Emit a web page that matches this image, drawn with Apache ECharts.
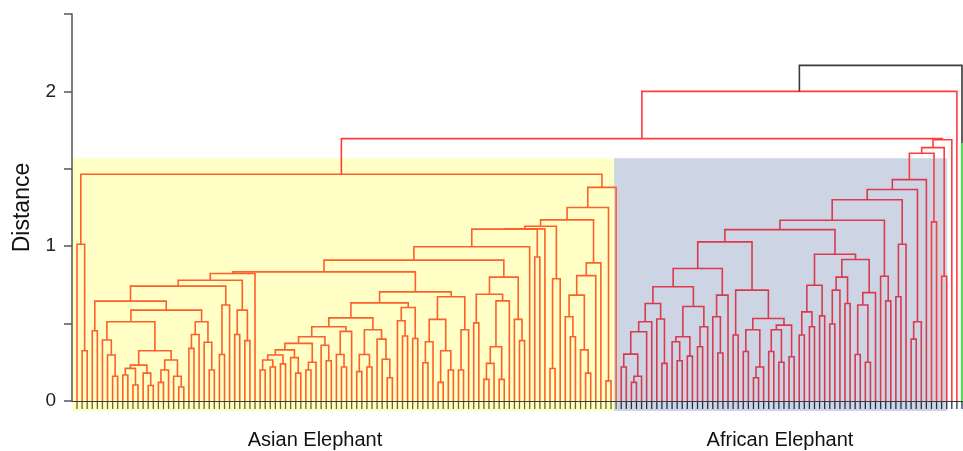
<!DOCTYPE html>
<html><head><meta charset="utf-8">
<script src="https://cdn.jsdelivr.net/npm/echarts@6/dist/echarts.min.js"></script>
<style>html,body{margin:0;padding:0;background:#fff}#c{width:963px;height:451px}</style>
</head><body><div id="c"></div>
<script>
// ---------------- DATA ----------------
// Dendrogram merges written as [height, left, right]; 0 = a leaf; [height, child] = single branch.
const groupNames = ['Asian Elephant', 'African Elephant'];
const yTickLabels = ['0', '1', '2'];
const cutoffHeight = 1.568;

const asianL1   = [1.013, 0, [0.325, 0, 0]];
const asianX107 = [0.394, 0, [0.297, 0, [0.16, 0, 0]]];
const asianX148 = [0.232, [0.211, [0.168, 0, 0], [0.103, 0, 0]], [0.18, 0, [0.1, 0, 0]]];
const asianX176 = [0.265, [0.2, [0.12, 0, 0], 0], [0.16, 0, [0.09, 0, 0]]];
const asianX199 = [0.512, [0.43, [0.34, 0, 0], 0], [0.38, 0, [0.2, 0, 0]]];
const asianX130 = [0.645, [0.454, 0, 0], [0.587, [0.512, asianX107, [0.325, asianX148, asianX176]], asianX199]];
const asianX241 = [0.824, [0.78, [0.742, asianX130, [0.62, [0.3, 0, 0], 0]], [0.587, [0.43, 0, 0], [0.39, 0, 0]]], 0];
const asianS1   = [0.48, [0.415, [0.372, [0.33, [0.297, [0.265, [0.2, 0, 0], [0.22, 0, 0]], [0.24, 0, 0]], [0.28, 0, [0.18, 0, 0]]], [0.25, [0.2, 0, 0], 0]], [0.36, 0, [0.26, 0, 0]]], [0.45, [0.3, 0, [0.22, 0, 0]], 0]];
const asianS2   = [0.46, [0.3, [0.19, 0, 0], [0.22, 0, 0]], [0.4, 0, [0.27, 0, [0.15, 0, 0]]]];
const asianX409 = [0.604, [0.518, 0, [0.42, 0, 0]], [0.404, 0, 0]];
const asianX451 = [0.673, [0.527, [0.383, [0.247, 0, 0], 0], [0.325, [0.12, 0, 0], [0.2, 0, 0]]], [0.46, [0.2, 0, 0], 0]];
const asianX416 = [0.705, [0.634, [0.537, asianS1, asianS2], asianX409], asianX451];
const asianR504 = [0.80, [0.69, [0.505, 0, 0], [0.647, [0.35, [0.243, [0.14, 0, 0], 0], [0.14, 0, 0]], 0]], [0.527, 0, [0.39, 0, 0]]];
const asianN3   = [1.11, [0.996, [0.91, [0.834, asianX241, asianX416], asianR504], 0], [0.93, 0, 0]];
const asianR3R  = [0.892, [0.81, [0.684, [0.544, 0, [0.415, 0, 0]], [0.33, 0, [0.18, 0, 0]]], 0], 0];
const asianTree = [1.465, asianL1, [1.38, [1.25, [1.17, [1.129, [1.112, asianN3, 0], [0.79, [0.21, 0, 0], 0]], asianR3R], [0.13, 0, 0]], 0]];

const afX630  = [0.303, [0.22, 0, 0], [0.16, [0.12, 0, 0], 0]];
const afX650  = [0.63, [0.512, [0.447, afX630, 0], 0], [0.53, 0, [0.243, 0, 0]]];
const afX690  = [0.61, [0.415, [0.383, 0, [0.26, 0, 0]], [0.29, 0, 0]], [0.48, [0.35, 0, 0], 0]];
const afX720  = [0.684, [0.544, 0, [0.31, 0, 0]], 0];
const afX770  = [0.533, [0.46, [0.32, 0, 0], [0.22, [0.15, 0, 0], 0]], [0.49, [0.46, [0.32, 0, 0], [0.25, 0, 0]], [0.286, 0, 0]]];
const afX1028 = [1.028, [0.856, [0.738, afX650, afX690], afX720], [0.716, [0.426, 0, 0], afX770]];
const afX838  = [0.948, [0.748, [0.576, [0.426, 0, 0], [0.48, 0, 0]], [0.55, 0, 0]], [0.914, [0.80, [0.716, [0.497, 0, 0], 0], [0.63, 0, 0]], [0.70, [0.62, [0.3, 0, 0], [0.25, 0, 0]], 0]]];
const africanTree = [1.43, [1.366, [1.30, [1.168, [1.107, afX1028, afX838], [0.806, 0, [0.647, 0, 0]]], [1.013, [0.673, 0, 0], 0]], [0.512, [0.40, 0, 0], 0]], 0];
const upperTree = [1.688, [1.637, [1.60, africanTree, [1.157, 0, 0]], [0.806, 0, 0]], 0];
const outgroup  = [1.665, 0];
const fullTree  = [2.168, [2.0, [1.695, asianTree, upperTree], 0], outgroup];

// ---------------- STYLE ----------------
const lineColors = { root: '#3a3a3a', upper: '#ff3c3c', asian: '#ff5f2a', african: '#d93a4e', green: '#22dd22' };
const colorKeys = Object.keys(lineColors);
const tickColors = ['#5f6a22', '#22304f'];
const boxColors = ['#ffffc6', '#cdd5e5'];

// ---------------- LAYOUT ----------------
let leafCounter = 0;
const segs = [];
const leaves = [];
function lay(node, group) {
  if (node === 0) { const x = leafCounter++; leaves.push([x, group === 'asian' ? 0 : 1]); return { x: x, h: 0 }; }
  if (node === asianTree) group = 'asian';
  else if (node === africanTree) group = 'african';
  const h = node[0];
  const kids = node.slice(1).map(c => lay(c, group));
  let key;
  if (node === fullTree) key = 'root';
  else if (node.length === 2) key = 'green';
  else if (group === 'asian') key = 'asian';
  else if (group === 'african') key = 'african';
  else key = 'upper';
  const ci = colorKeys.indexOf(key);
  if (kids.length === 1) {
    segs.push([kids[0].x, kids[0].h, kids[0].x, kids[0].h, h, ci]);
    return { x: kids[0].x, h: h };
  }
  segs.push([kids[0].x, kids[0].h, kids[1].x, kids[1].h, h, ci]);
  return { x: (kids[0].x + kids[1].x) / 2, h: h };
}
lay(fullTree, 'upper');
const nLeaves = leafCounter;
const asianCount = leaves.filter(l => l[1] === 0).length;
const xMin = -0.983, xMax = nLeaves - 1 + 0.2;
const boxes = [[xMin, asianCount - 1.4, cutoffHeight, 0], [asianCount - 1.4, nLeaves - 3.9, cutoffHeight, 1]];

const chart = echarts.init(document.getElementById('c'), null, { renderer: 'canvas' });
const font = 'Liberation Sans, Arial, Helvetica, sans-serif';
chart.setOption({
  animation: false,
  backgroundColor: '#ffffff',
  grid: { left: 72, right: 0, top: 14, bottom: 50 },
  xAxis: { type: 'value', min: xMin, max: xMax, z: 6,
    axisLine: { show: true, onZero: false, lineStyle: { color: '#3a3a3a', width: 1 } },
    axisTick: { show: false }, axisLabel: { show: false }, splitLine: { show: false } },
  yAxis: { type: 'value', min: 0, max: 2.5, interval: 0.5, z: 6,
    name: 'Distance', nameLocation: 'middle', nameGap: 29, nameRotate: 90,
    nameTextStyle: { fontSize: 23, color: '#111', fontFamily: font },
    axisLine: { show: true, onZero: false, lineStyle: { color: '#555', width: 1.5 } },
    axisTick: { show: true, inside: false, length: 8, lineStyle: { color: '#555', width: 1.5 } },
    axisLabel: { fontSize: 19, color: '#222', margin: 16, fontFamily: font,
      formatter: v => (Number.isInteger(v) && yTickLabels.indexOf(String(v)) >= 0 ? String(v) : '') },
    splitLine: { show: false } },
  series: [
    { type: 'custom', clip: false, z: 0, silent: true, data: boxes, encode: { x: [0, 1], y: 2 },
      renderItem: (p, api) => {
        const a = api.coord([api.value(0), api.value(2)]);
        const b = api.coord([api.value(1), 0]);
        return { type: 'rect', shape: { x: a[0], y: a[1], width: b[0] - a[0], height: b[1] - a[1] + 10 },
          style: { fill: boxColors[api.value(3)] } };
      } },
    { type: 'custom', clip: false, z: 3, silent: true, data: segs, encode: { x: [0, 2], y: [1, 3, 4] },
      renderItem: (p, api) => {
        const x1 = api.value(0), h1 = api.value(1), x2 = api.value(2), h2 = api.value(3), h = api.value(4);
        const pts = [api.coord([x1, h1]), api.coord([x1, h]), api.coord([x2, h]), api.coord([x2, h2])];
        return { type: 'polyline', shape: { points: pts },
          style: { stroke: lineColors[colorKeys[api.value(5)]], lineWidth: 1.6, fill: null } };
      } },
    { type: 'custom', clip: false, z: 2, silent: true, data: leaves, encode: { x: 0, y: 1 },
      renderItem: (p, api) => {
        const a = api.coord([api.value(0), 0]);
        return { type: 'line', shape: { x1: a[0], y1: a[1], x2: a[0], y2: a[1] + 8 },
          style: { stroke: tickColors[api.value(1)], lineWidth: 1.3 } };
      } }
  ],
  graphic: [
    { type: 'text', x: 315, y: 440, style: { text: groupNames[0], fontSize: 20, fill: '#111', fontFamily: font, align: 'center', verticalAlign: 'middle', textAlign: 'center', textVerticalAlign: 'middle' } },
    { type: 'text', x: 780, y: 440, style: { text: groupNames[1], fontSize: 20, fill: '#111', fontFamily: font, align: 'center', verticalAlign: 'middle', textAlign: 'center', textVerticalAlign: 'middle' } }
  ]
});
</script></body></html>
